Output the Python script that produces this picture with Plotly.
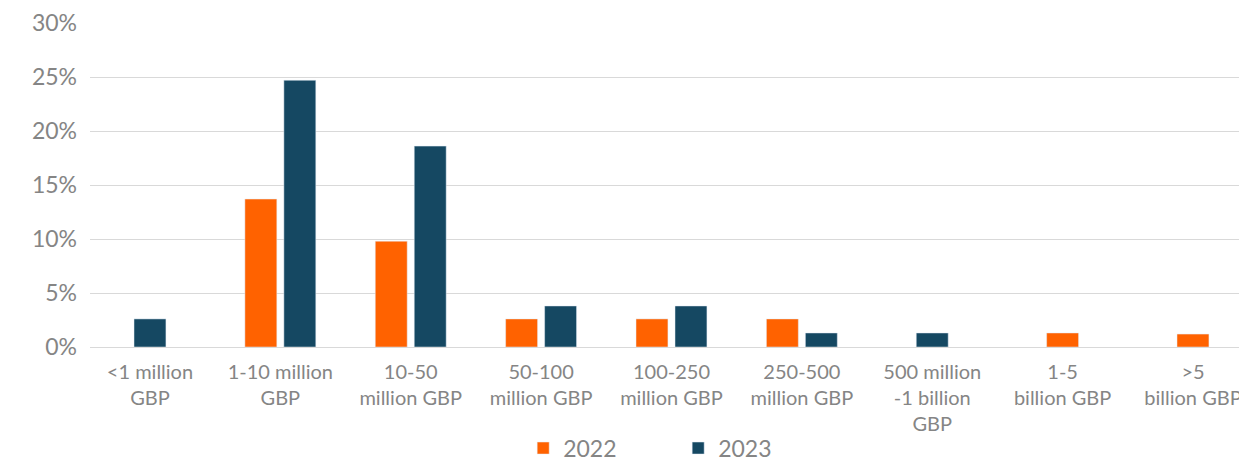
import plotly.graph_objects as go

categories = [
    "<1 million<br>GBP",
    "1-10 million<br>GBP",
    "10-50<br>million GBP",
    "50-100<br>million GBP",
    "100-250<br>million GBP",
    "250-500<br>million GBP",
    "500 million<br>-1 billion<br>GBP",
    "1-5<br>billion GBP",
    ">5<br>billion GBP",
]
share_2022 = [None, 13.7, 9.8, 2.6, 2.6, 2.6, None, 1.3, 1.2]
share_2023 = [2.6, 24.7, 18.6, 3.8, 3.8, 1.3, 1.3, None, None]
y_ticks = [0, 5, 10, 15, 20, 25, 30]

ORANGE = "#FF6200"
NAVY = "#154862"
GREY_TEXT = "#858585"
FONT = "Lato"

BAR_W = 0.245
GAP = 0.054


def offsets(mine, other, first):
    """Pair bars side by side; a lone bar sits centred on its category."""
    out = []
    for a, b in zip(mine, other):
        if b is None:
            out.append(-BAR_W / 2)
        elif first:
            out.append(-BAR_W - GAP / 2)
        else:
            out.append(GAP / 2)
    return out


x_idx = list(range(len(categories)))

fig = go.Figure()
fig.add_trace(go.Bar(
    name="2022", x=x_idx, y=share_2022,
    marker_color=ORANGE, width=BAR_W,
    offset=offsets(share_2022, share_2023, True),
))
fig.add_trace(go.Bar(
    name="2023", x=x_idx, y=share_2023,
    marker_color=NAVY, width=BAR_W,
    offset=offsets(share_2023, share_2022, False),
))

fig.update_layout(
    width=1239, height=461,
    margin=dict(l=90, r=0, t=23, b=114, autoexpand=False),
    plot_bgcolor="white", paper_bgcolor="white",
    font=dict(family=FONT, color=GREY_TEXT),
    barmode="overlay",
    showlegend=True,
    legend=dict(
        orientation="h", x=0.377, xanchor="left",
        yref="container", y=0.028, yanchor="middle",
        font=dict(size=23, color=GREY_TEXT),
        entrywidth=110,
    ),
)
fig.update_xaxes(
    range=[-0.46, 8.353],
    tickmode="array", tickvals=x_idx, ticktext=categories,
    tickfont=dict(size=20, color=GREY_TEXT),
    showgrid=False, zeroline=False, showline=False, ticks="",
    automargin=False, ticklabeloverflow="allow", ticklabelstandoff=11,
)
fig.update_yaxes(
    range=[0, 30],
    tickmode="array", tickvals=y_ticks,
    ticktext=[f"{v}%" for v in y_ticks],
    tickfont=dict(size=23, color=GREY_TEXT),
    showgrid=True, gridcolor="#D9D9D9", gridwidth=1,
    zeroline=True, zerolinecolor="#D9D9D9", zerolinewidth=1,
    showline=False, ticks="", ticklabelstandoff=12,
    automargin=False,
)

fig.write_html("out.html")
